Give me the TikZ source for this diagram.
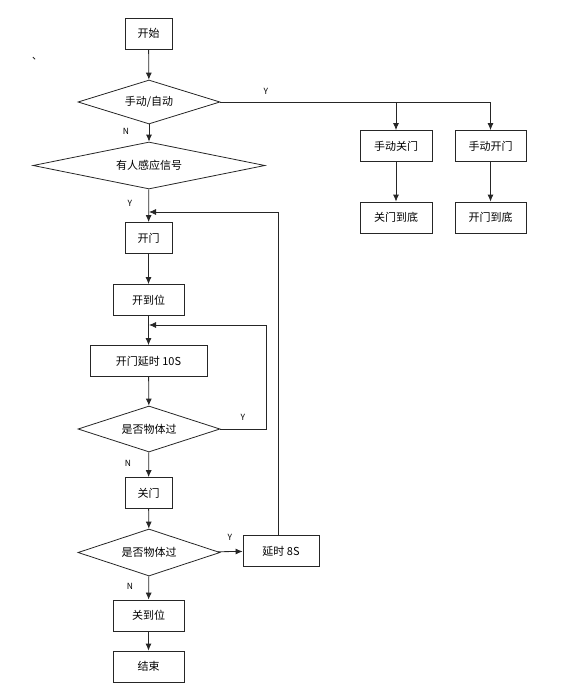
\documentclass[tikz,border=0pt]{standalone}
\usepackage{fontspec}
\setmainfont{Noto Sans CJK SC}
\usetikzlibrary{shapes.geometric, arrows.meta}

\begin{document}
\begin{tikzpicture}[>={Latex[length=7pt,width=6pt]}, x=1pt, y=-1pt, line width=0.8pt, draw=black!85,
  box/.style={draw, minimum height=31pt, inner sep=0pt, font=\fontsize{11}{13}\selectfont},
  dec/.style={draw, diamond, aspect=5, inner sep=0pt, font=\fontsize{11}{13}\selectfont},
  lab/.style={font=\fontsize{8.5}{10}\selectfont}]
\useasboundingbox (0,0) rectangle (561,699);
% main column
\node[box, minimum width=47pt] (start) at (148.5,33.5) {开始};
\node[dec, minimum width=142pt, minimum height=44pt] (mode) at (149,102) {手动/自动};
\node[dec, minimum width=232pt, minimum height=47pt] (sense) at (149,165.5) {有人感应信号};
\node[box, minimum width=47pt] (open) at (148.5,238) {开门};
\node[box, minimum width=71pt] (opened) at (148.5,300) {开到位};
\node[box, minimum width=117pt] (delay10) at (148.5,361) {开门延时 10S};
\node[dec, minimum width=142pt, minimum height=46pt] (pass1) at (149,429) {是否物体过};
\node[box, minimum width=47pt] (close) at (148.5,493) {关门};
\node[dec, minimum width=142pt, minimum height=47pt] (pass2) at (149,552.5) {是否物体过};
\node[box, minimum width=76pt] (delay8) at (281,551) {延时 8S};
\node[box, minimum width=71pt] (closed) at (148.5,615.5) {关到位};
\node[box, minimum width=71pt] (stop) at (148.5,666.5) {结束};
% manual branch
\node[box, minimum width=72pt] (mclose) at (396,146) {手动关门};
\node[box, minimum width=71pt] (mopen) at (490.5,146) {手动开门};
\node[box, minimum width=72pt] (mclosed) at (396,217.5) {关门到底};
\node[box, minimum width=71pt] (mopened) at (490.5,217.5) {开门到底};
\node[font=\fontsize{10}{11}\selectfont] (dot) at (37,59) {、};
% joints
\coordinate (b1) at (mclose |- mode.east);
\coordinate (b2) at (mopen |- mode.east);
\coordinate (j1) at (149,325);
\coordinate (j2) at (149,212);
% arrows
\draw[->] (start) -- (mode);
\draw[->] (mode) -- (sense);
\draw[->] (sense) -- (open);
\draw[->] (open) -- (opened);
\draw[->] (opened) -- (delay10);
\draw[->] (delay10) -- (pass1);
\draw[->] (pass1) -- (close);
\draw[->] (close) -- (pass2);
\draw[->] (pass2) -- (closed);
\draw[->] (closed) -- (stop);
\draw[->] (pass2) -- (delay8);
\draw[->] (pass1.east) -- ++(46,0) |- (j1);
\draw[->] (delay8.north -| 278,0) |- (j2);
\draw (mode.east) -- (b2);
\draw[->] (b1) -- (mclose);
\draw[->] (b2) -- (mopen);
\draw[->] (mclose) -- (mclosed);
\draw[->] (mopen) -- (mopened);
% labels
\node[lab] (y1) at (266,91) {Y};
\node[lab] (n1) at (126,131) {N};
\node[lab] (y2) at (130,203) {Y};
\node[lab] (y3) at (243,417) {Y};
\node[lab] (n2) at (128,463) {N};
\node[lab] (y4) at (230,537) {Y};
\node[lab] (n3) at (130,586) {N};
\end{tikzpicture}
\end{document}
